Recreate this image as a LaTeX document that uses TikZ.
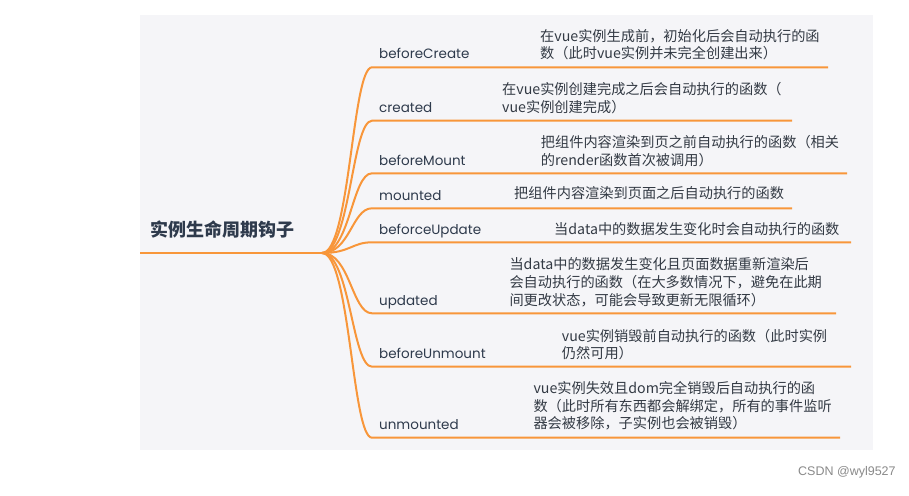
\documentclass[tikz,border=0pt]{standalone}
\usepackage{fontspec}
\setmainfont{Poppins}
\newfontfamily\cjk{Noto Sans CJK SC}
\newfontfamily\wmfont{Liberation Sans}
\definecolor{bg}{HTML}{F5F5F8}
\definecolor{br}{HTML}{F8963A}
\definecolor{lab}{HTML}{2E3A4C}
\definecolor{txt}{HTML}{333A44}
\definecolor{wm}{HTML}{8A8A8A}
\begin{document}
\begin{tikzpicture}[x=1pt,y=-1pt,
  branch/.style={draw=br, line width=2pt},
  hook/.style={font=\fontsize{13.5}{16}\selectfont, text=lab, anchor=base west, inner sep=0pt},
  desc/.style={font=\cjk\fontsize{14.2}{17.6}\selectfont, text=txt, anchor=west, inner sep=0pt, align=left},
  curve/.style={out=0, in=180, out distance=28pt, in distance=20pt}
]
\useasboundingbox (0,0) rectangle (909,495);
\fill[white] (0,0) rectangle (909,495);
\fill[bg] (140,15) rectangle (873,450);

% root
\node[font=\cjk\bfseries\fontsize{18}{20}\selectfont, text=lab, anchor=west, inner sep=0pt] (root) at (150,230) {实例生命周期钩子};
\coordinate (r0) at (140,253);
\coordinate (r1) at (322,253);
\draw[branch] (r0) -- (r1);

% branch end points
\coordinate (s1) at (372,67.3);  \coordinate (e1) at (828,67.3);
\coordinate (s2) at (372,120.7); \coordinate (e2) at (792,120.7);
\coordinate (s3) at (372,173.3); \coordinate (e3) at (847,173.3);
\coordinate (s4) at (372,208.3); \coordinate (e4) at (792,208.3);
\coordinate (s5) at (372,242.3); \coordinate (e5) at (851,242.3);
\coordinate (s6) at (372,313.3); \coordinate (e6) at (836,313.3);
\coordinate (s7) at (372,366.7); \coordinate (e7) at (851,366.7);
\coordinate (s8) at (372,437.7); \coordinate (e8) at (840,437.7);

\foreach \i in {1,...,8}{
  \draw[branch] (r1) to[curve] (s\i) -- (e\i);
}

% hook labels (baseline 8.3 above each branch line)
\node[hook] (h1) at (379,59.0)  {beforeCreate};
\node[hook] (h2) at (379,112.4) {created};
\node[hook] (h3) at (379,165.0) {beforeMount};
\node[hook] (h4) at (379,200.0) {mounted};
\node[hook] (h5) at (379,234.0) {beforceUpdate};
\node[hook] (h6) at (379,305.0) {updated};
\node[hook] (h7) at (379,358.4) {beforeUnmount};
\node[hook] (h8) at (379,429.4) {unmounted};

% descriptions
\node[desc] (d1) at (540,44.7) {在vue实例生成前，初始化后会自动执行的函\\数（此时vue实例并未完全创建出来）};
\node[desc] (d2) at (502,98.3) {在vue实例创建完成之后会自动执行的函数（\\vue实例创建完成）};
\node[desc] (d3) at (540.7,151.2) {把组件内容渲染到页之前自动执行的函数（相关\\的render函数首次被调用）};
\node[desc] (d4) at (514,193.3) {把组件内容渲染到页面之后自动执行的函数};
\node[desc] (d5) at (554,229) {当data中的数据发生变化时会自动执行的函数};
\node[desc] (d6) at (509.3,282.2) {当data中的数据发生变化且页面数据重新渲染后\\会自动执行的函数（在大多数情况下，避免在此期\\间更改状态，可能会导致更新无限循环）};
\node[desc] (d7) at (561.7,344.5) {vue实例销毁前自动执行的函数（此时实例\\仍然可用）};
\node[desc] (d8) at (533.3,406) {vue实例失效且dom完全销毁后自动执行的函\\数（此时所有东西都会解绑定，所有的事件监听\\器会被移除，子实例也会被销毁）};

% watermark
\node[font=\wmfont\fontsize{12.5}{14}\selectfont, text=wm, anchor=west, inner sep=0pt] (wmk) at (798,472) {CSDN @wyl9527};
\end{tikzpicture}
\end{document}
